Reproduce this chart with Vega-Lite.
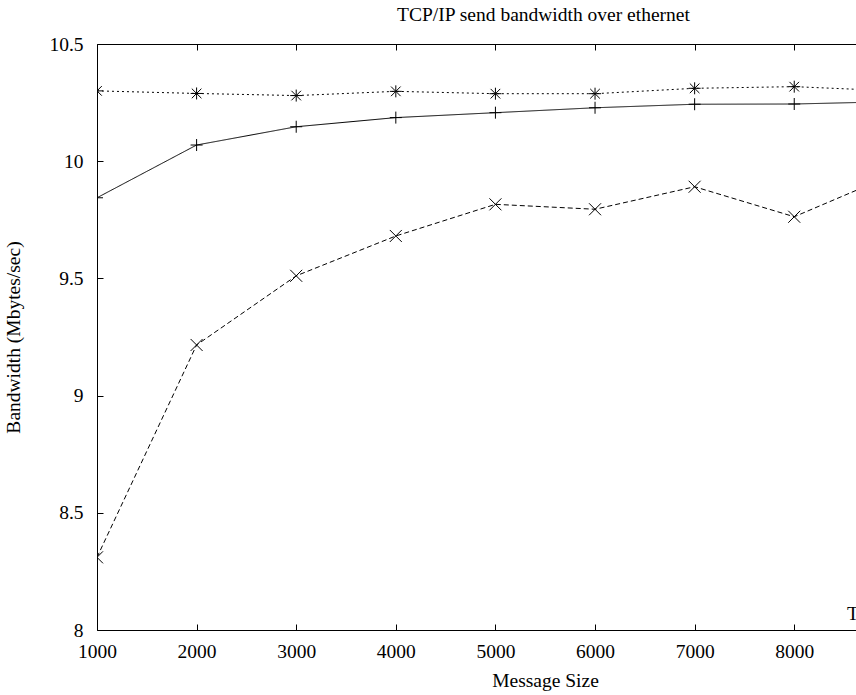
{
  "$schema": "https://vega.github.io/schema/vega-lite/v6.json",
  "width": 759,
  "height": 586,
  "autosize": {"type": "none"},
  "padding": {"left": 97, "top": 44, "right": 0, "bottom": 65},
  "background": "white",
  "config": {
    "view": {"stroke": null},
    "font": "Liberation Serif",
    "axis": {
      "domainColor": "black",
      "domainWidth": 1,
      "tickColor": "black",
      "tickWidth": 1,
      "labelColor": "black",
      "labelFont": "Liberation Serif",
      "labelFontSize": 19.5,
      "titleFont": "Liberation Serif",
      "titleFontSize": 19.5,
      "titleFontWeight": "normal",
      "titleColor": "black",
      "labelFlush": false,
      "labelOverlap": false,
      "labelBound": false,
      "grid": false
    }
  },
  "title": {
    "text": "TCP/IP send bandwidth over ethernet",
    "font": "Liberation Serif",
    "fontSize": 19.5,
    "fontWeight": "normal",
    "color": "black",
    "anchor": "middle",
    "frame": "group",
    "baseline": "alphabetic",
    "dx": 67,
    "offset": -6
  },
  "data": {
    "values": [
      {"size": 1000, "bw": 10.300, "series": "star"},
      {"size": 2000, "bw": 10.289, "series": "star"},
      {"size": 3000, "bw": 10.280, "series": "star"},
      {"size": 4000, "bw": 10.298, "series": "star"},
      {"size": 5000, "bw": 10.288, "series": "star"},
      {"size": 6000, "bw": 10.288, "series": "star"},
      {"size": 7000, "bw": 10.311, "series": "star"},
      {"size": 8000, "bw": 10.318, "series": "star"},
      {"size": 9000, "bw": 10.300, "series": "star"},
      {"size": 1000, "bw": 9.844, "series": "plus"},
      {"size": 2000, "bw": 10.069, "series": "plus"},
      {"size": 3000, "bw": 10.147, "series": "plus"},
      {"size": 4000, "bw": 10.186, "series": "plus"},
      {"size": 5000, "bw": 10.207, "series": "plus"},
      {"size": 6000, "bw": 10.228, "series": "plus"},
      {"size": 7000, "bw": 10.243, "series": "plus"},
      {"size": 8000, "bw": 10.244, "series": "plus"},
      {"size": 9000, "bw": 10.254, "series": "plus"},
      {"size": 1000, "bw": 8.310, "series": "cross"},
      {"size": 2000, "bw": 9.216, "series": "cross"},
      {"size": 3000, "bw": 9.511, "series": "cross"},
      {"size": 4000, "bw": 9.681, "series": "cross"},
      {"size": 5000, "bw": 9.816, "series": "cross"},
      {"size": 6000, "bw": 9.795, "series": "cross"},
      {"size": 7000, "bw": 9.891, "series": "cross"},
      {"size": 8000, "bw": 9.763, "series": "cross"},
      {"size": 9000, "bw": 9.944, "series": "cross"}
    ]
  },
  "layer": [
    {
      "mark": {"type": "line", "clip": true, "color": "black", "strokeWidth": 1},
      "encoding": {
        "x": {
          "field": "size", "type": "quantitative",
          "scale": {"domain": [1000, 8620], "nice": false, "zero": false},
          "axis": {
            "orient": "bottom",
            "values": [1000, 2000, 3000, 4000, 5000, 6000, 7000, 8000],
            "format": "d",
            "tickSize": -6,
            "labelPadding": 33,
            "labelBaseline": "alphabetic",
            "title": "Message Size",
            "titleX": 448,
            "titleY": 56,
            "titleAlign": "center",
            "titleBaseline": "alphabetic"
          }
        },
        "y": {
          "field": "bw", "type": "quantitative",
          "scale": {"domain": [8, 10.5], "nice": false, "zero": false},
          "axis": {
            "orient": "left",
            "values": [8, 8.5, 9, 9.5, 10, 10.5],
            "format": "~g",
            "tickSize": -6,
            "labelPadding": 20,
            "title": "Bandwidth (Mbytes/sec)",
            "titleAngle": -90,
            "titleX": -78,
            "titleY": 293,
            "titleAlign": "center",
            "titleBaseline": "alphabetic"
          }
        },
        "detail": {"field": "series"},
        "strokeDash": {
          "field": "series", "type": "nominal",
          "scale": {"domain": ["star", "plus", "cross"], "range": [[2, 3], [1, 0], [5, 3]]},
          "legend": null
        }
      }
    },
    {
      "mark": {"type": "point", "clip": true, "filled": false, "color": "black", "strokeWidth": 1, "size": 144, "opacity": 1},
      "encoding": {
        "x": {
          "field": "size", "type": "quantitative",
          "axis": {
            "orient": "top",
            "values": [1000, 2000, 3000, 4000, 5000, 6000, 7000, 8000],
            "labels": false,
            "tickSize": -6,
            "title": null
          }
        },
        "y": {"field": "bw", "type": "quantitative"},
        "shape": {
          "field": "series", "type": "nominal",
          "scale": {
            "domain": ["star", "plus", "cross"],
            "range": [
              "M-1,0L1,0M0,-1L0,1M-0.8,-0.8L0.8,0.8M-0.8,0.8L0.8,-0.8",
              "M-1,0L1,0M0,-1L0,1",
              "M-1,-1L1,1M-1,1L1,-1"
            ]
          },
          "legend": null
        }
      }
    },
    {
      "data": {"values": [{"size": 8530, "bw": 8.043, "label": "T"}]},
      "mark": {"type": "text", "clip": true, "align": "left", "baseline": "alphabetic", "font": "Liberation Serif", "fontSize": 19.5, "color": "black"},
      "encoding": {
        "x": {"field": "size", "type": "quantitative", "axis": null},
        "y": {"field": "bw", "type": "quantitative"},
        "text": {"field": "label"}
      }
    }
  ],
  "resolve": {"axis": {"x": "independent"}}
}
